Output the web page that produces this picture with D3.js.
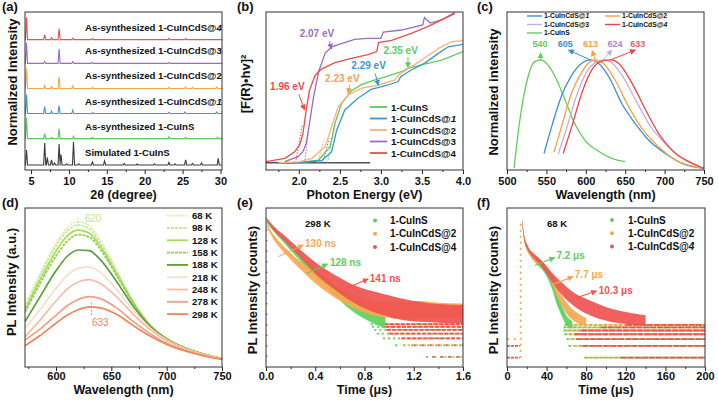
<!DOCTYPE html>
<html><head><meta charset="utf-8">
<script src="https://cdn.jsdelivr.net/npm/d3@7"></script>
<style>body{margin:0;background:#fff}</style>
</head><body><script>
// ================= DATA =================
// (a) XRD
const xrdLabels = ["Simulated 1-CuInS","As-synthesized 1-CuInS","As-synthesized 1-CuInCdS@1","As-synthesized 1-CuInCdS@2","As-synthesized 1-CuInCdS@3","As-synthesized 1-CuInCdS@4"];
const xrdOffsets = [0.2, 1.25, 2.25, 3.25, 4.25, 5.2];
const xrdEdge = [0, 0.25, 0.3, 0.3, 0.28, 0.3];
const xrdPeaksSim = [[4.4,0.6],[6.8,0.88],[7.15,0.3],[7.7,0.2],[8.1,0.08],[8.7,0.84],[8.95,0.42],[9.7,0.05],[10.6,0.92],[11.3,0.05],[13.1,0.12],[14.7,0.16],[17.3,0.06],[19,0.04],[21.3,0.05],[23.2,0.1],[24,0.05],[25.4,0.2],[26.3,0.06],[27.5,0.08],[29.7,0.26]];
const xrdPeaksCuInS = [[4.4,0.84],[6.8,0.2],[7.7,0.05],[8.7,0.4],[10.6,0.1],[13.1,0.05],[23.2,0.08],[25.4,0.05],[29.6,0.05]];
const xrdPeaks1 = [[4.4,0.76],[6.8,0.28],[7.7,0.1],[8.7,0.32],[10.5,0.14],[13.1,0.04],[23.2,0.05],[25.3,0.06],[29.5,0.06]];
const xrdPeaks2 = [[4.4,0.8],[6.8,0.12],[7.7,0.08],[8.7,0.48],[10.5,0.1],[13.1,0.04],[23.2,0.05],[25.4,0.06],[26.3,0.05],[29.5,0.06]];
const xrdPeaks3 = [[4.4,0.82],[6.8,0.08],[8.7,0.58],[10.5,0.07],[13.1,0.04],[23.2,0.04]];
const xrdPeaks4 = [[4.4,0.88],[6.8,0.2],[7.7,0.08],[8.7,0.44],[10.5,0.06],[13.1,0.04],[23.2,0.05],[25.4,0.04]];
const xrdTicks = [5,10,15,20,25,30];

// (b) Tauc plots
const taucNames = ["1-CuInS","1-CuInCdS@1","1-CuInCdS@2","1-CuInCdS@3","1-CuInCdS@4"];
const taucCuInS = [[1.75,4.2],[2.0,4.6],[2.24,6.3],[2.38,14.8],[2.44,29.5],[2.52,42],[2.64,50],[2.76,54],[2.93,57],[3.09,59.5],[3.25,62.2],[3.33,64.3],[3.49,66.5],[3.74,69.6],[4.0,75]];
const tauc1 = [[1.75,4.2],[2.0,4.6],[2.28,6],[2.4,11.6],[2.46,25],[2.56,38],[2.72,45.4],[2.88,51],[3.09,53.8],[3.21,56],[3.24,59],[3.37,63.3],[3.53,67.5],[3.7,73.8],[3.82,78],[4.0,79.5]];
const tauc2 = [[1.75,4.6],[2.0,5.2],[2.16,7.4],[2.32,14.8],[2.4,27.4],[2.48,40],[2.6,47.5],[2.76,51.7],[2.97,53.8],[3.17,57],[3.21,60],[3.37,65.4],[3.53,70.7],[3.7,77],[3.86,81.2],[4.0,81.9]];
const tauc3 = [[1.83,5.3],[1.99,8.4],[2.05,11.6],[2.09,17],[2.13,29.5],[2.18,46.4],[2.24,62],[2.32,73.8],[2.4,78],[2.52,80],[2.68,82.7],[2.84,83.3],[3.0,83.3],[3.03,87.3],[3.25,88.6],[3.51,91.8],[3.53,96.5],[3.6,93],[3.74,95],[3.9,99]];
const tauc4 = [[1.6,5.3],[1.83,7.4],[1.95,11.6],[2.01,15.8],[2.05,23],[2.09,38],[2.13,50.6],[2.2,60],[2.28,64],[2.44,68],[2.64,70.7],[2.84,73],[2.95,75],[2.97,80.6],[3.13,82],[3.37,86.5],[3.57,90.7],[3.74,95],[3.9,99.6]];
const taucBaseline = [[1.6,4.6],[2.87,4.6]];
const bandgaps = [2.35, 2.29, 2.23, 2.07, 1.96];
const tangentTop = [[2.43,26],[2.37,20],[2.31,20],[2.12,26],[2.04,28]];
const taucTicks = [2.0,2.5,3.0,3.5,4.0];

// (c) normalized PL
const plNames = ["1-CuInCdS@1","1-CuInCdS@2","1-CuInCdS@3","1-CuInCdS@4","1-CuInS"];
const plPeaks = [605, 613, 624, 633, 540];
const pl1 = [[547,0.15],[556.5,0.39],[569,0.67],[582,0.86],[595,0.97],[605.5,1.0],[616,0.97],[629,0.85],[646,0.6],[663,0.42],[680,0.27],[701,0.15],[722,0.06],[750,0.015]];
const pl2 = [[559.5,0.16],[569,0.39],[582,0.7],[595,0.89],[605.5,0.985],[612,1.0],[622,0.97],[637,0.82],[654,0.58],[671,0.38],[692.6,0.21],[714,0.09],[750,0.015]];
const pl3 = [[565,0.145],[575.7,0.38],[588.4,0.68],[601,0.89],[614,0.985],[622.4,1.0],[631,0.985],[646,0.86],[663,0.64],[680,0.42],[701,0.24],[722,0.106],[750,0.015]];
const pl4 = [[571.4,0.15],[582,0.39],[595,0.7],[607.6,0.91],[620.3,0.99],[632,1.0],[641.6,0.97],[658.6,0.79],[675.6,0.55],[692.6,0.33],[714,0.15],[731,0.076],[750,0.015]];
const plCuInS = [[509,0.015],[514,0.33],[520.4,0.64],[526.8,0.85],[535,0.985],[542.5,1.0],[550,0.97],[561,0.85],[573.5,0.64],[586,0.42],[599,0.27],[616,0.17],[633,0.106],[650,0.076]];
const plTicks = [500,550,600,650,700,750];

// (d) temperature-dependent PL
const tempLabels = ["68 K","98 K","128 K","158 K","188 K","218 K","248 K","278 K","298 K"];
const tempWl = [572,585,600,610,620,630,640,655,670,685,700,720,740,750];
const pl68K  = [39,57.9,77.8,87.6,91.4,88.9,79.9,61,41.5,26.8,18,11.3,7.1,5.5];
const pl98K  = [37.3,56.5,76,85.6,89.3,86.9,78,59.8,40.8,26.4,17.8,11.2,7,5.4];
const pl128K = [35.8,54,72.8,82.3,86.1,84.3,76,58.5,40.3,26.2,17.8,11.2,7,5.4];
const pl158K = [34.4,51.7,69.8,79,83.2,81.8,74,57.2,39.8,26,17.6,11.1,7,5.3];
const pl188K = [28.5,43.5,60.5,69.5,73.6,73.2,67.5,53.5,38,25.5,17.4,11,6.9,5.3];
const pl218K = [24.3,35.5,49.5,57.5,62,63,59.5,48.5,35.5,24.5,17,10.8,6.8,5.2];
const pl248K = [19.1,29,41.5,49,53.5,55,52.5,44,33,23.5,16.5,10.5,6.6,5.1];
const pl278K = [17,23.5,32.5,38.5,42.5,44.2,43,37,28.5,21,15,9.8,6.3,5];
const pl298K = [13.4,19.5,27.5,32.5,36,37.8,37.2,33,26,19.5,14.2,9.4,6,4.8];
const tempTicks = [600,650,700,750];

// (e) TRPL 298 K : [time µs, low count, high count]
const decayNames = ["1-CuInS","1-CuInCdS@2","1-CuInCdS@4"];
const decayE_CuInS = [[0.005,2864,3357],[0.05,1888,2301],[0.15,836,1062],[0.29,270,371],[0.42,102,164],[0.56,38.6,72.8],[0.69,16.1,35.6],[0.83,8.5,20.4],[0.97,5.4,14.6]];
const decayE_2 = [[0.005,2301,2806],[0.05,1219,1610],[0.15,480,686],[0.29,168,270],[0.42,70,132],[0.56,33.6,68.6],[0.69,19.6,43.4],[0.83,12.7,30.4],[0.97,10.4,26],[1.1,9.4,25.4],[1.24,9.8,27.5],[1.4,9.8,25],[1.6,9.8,24]];
const decayE_4 = [[0.005,3357,3936],[0.05,2042,2594],[0.15,980,1346],[0.29,336,541],[0.42,122,249],[0.56,54,129],[0.69,27.5,77],[0.83,16.1,53],[0.97,11.5,40.9],[1.1,9.06,32.3],[1.24,8.04,26.5],[1.4,7.57,23],[1.6,7.13,21.7]];
const stripeLevels = [1,2,3,4,5,6,7];
const stripeStartE_CuInS = [1.3,1.05,0.95,0.9,0.88,0.86,0.85];
const stripeStartE_2 = [1.45,1.15,1.1,1.0,0.98,0.96,0.95];
const stripeStartE_4 = [1.35,1.2,1.1,1.0,0.98,0.97,0.96];
const lifetimesE = ["128 ns","130 ns","141 ns"];
const decayTicksE = [0,0.4,0.8,1.2,1.6];

// (f) TRPL 68 K
const decayF_CuInS = [[15.2,2979,3490],[17.9,888,1082],[23,434,551],[29.7,259,342],[38,152,217],[44.9,64.6,104],[50,24.9,45.2],[55,12.4,22.6],[60,6.86,12.4],[66,5.62,8.7]];
const decayF_2 = [[15.2,3100,3634],[17.9,871,1104],[24.6,385,509],[31,254,349],[39.8,158,235],[46.5,68.6,120],[53.3,27.5,49.9],[61.7,12,23.5],[72,7.57,13.7],[80,6.59,10.6]];
const decayF_4 = [[15.2,3226,3784],[17.2,1148,1517],[21.2,585,743],[28,349,461],[34.7,226,323],[44.9,94,158],[55,42.6,87],[68.5,20.4,45.2],[85,12,28.6],[102,8.7,19.3],[119,7.42,15.2],[140,6.59,12.4]];
const stripeStartF_CuInS = [78,62,60,58,57,57,58];
const stripeStartF_2 = [80,68,64,62,60,60,62];
const stripeStartF_4 = [115,76,70,68,75,95,120];
const lifetimesF = ["7.2 μs","7.7 μs","10.3 μs"];
const decayTicksF = [0,40,80,120,160,200];

// ================= DRAWING =================
const FONT = '"Liberation Sans", Arial, Helvetica, sans-serif';
const svg = d3.select("body").append("svg").attr("width",718).attr("height",400)
  .style("font-family",FONT).style("background","#fff");
const defs = svg.append("defs");

function arrowId(color){
  const id = "arr" + color.replace("#","");
  if (defs.select("#"+id).empty()) {
    defs.append("marker").attr("id",id).attr("viewBox","0 0 10 10")
      .attr("refX",9).attr("refY",5).attr("markerWidth",6).attr("markerHeight",6)
      .attr("markerUnits","userSpaceOnUse").attr("orient","auto")
      .append("path").attr("d","M0,0L10,5L0,10z").attr("fill",color);
  }
  return "url(#"+id+")";
}

function addText(g, x, y, str, opt){
  const t = g.append("text").attr("x",x).attr("y",y)
    .attr("font-size",opt.size||10).attr("font-weight",opt.weight||"bold")
    .attr("fill",opt.color||"#111").attr("text-anchor",opt.anchor||"start")
    .style("font-family",FONT);
  if (opt.italicLast) {
    t.append("tspan").text(str.slice(0,-1));
    t.append("tspan").attr("font-style","italic").text(str.slice(-1));
  } else t.text(str);
  return t;
}

function panel(cfg){
  const g = svg.append("g");
  const x = d3.scaleLinear().domain(cfg.xDomain).range([cfg.x0,cfg.x1]);
  const y = (cfg.log ? d3.scaleLog() : d3.scaleLinear()).domain(cfg.yDomain).range([cfg.y1,cfg.y0]);
  const cid = "clip"+cfg.letter;
  defs.append("clipPath").attr("id",cid).append("rect")
    .attr("x",cfg.x0).attr("y",cfg.y0).attr("width",cfg.x1-cfg.x0).attr("height",cfg.y1-cfg.y0);
  const plot = g.append("g").attr("clip-path","url(#"+cid+")");
  const top = cfg.y1 < 200;
  function finish(){
    const ax = g.append("g").attr("transform","translate(0,"+cfg.y1+")")
      .call(d3.axisBottom(x).tickValues(cfg.ticks).tickFormat(cfg.fmt).tickSize(4).tickPadding(top?3:1).tickSizeOuter(0));
    ax.select(".domain").remove();
    ax.attr("font-family",null).attr("font-size",null);
    ax.selectAll("text").attr("font-size",11).attr("font-weight","bold").attr("fill","#111").style("font-family",FONT);
    ax.selectAll("line").attr("stroke","#222");
    const mx = g.append("g").attr("transform","translate(0,"+cfg.y1+")")
      .call(d3.axisBottom(x).tickValues(cfg.minor).tickFormat("").tickSize(2).tickSizeOuter(0));
    mx.select(".domain").remove();
    mx.selectAll("line").attr("stroke","#222");
    g.append("rect").attr("x",cfg.x0).attr("y",cfg.y0).attr("width",cfg.x1-cfg.x0).attr("height",cfg.y1-cfg.y0)
      .attr("fill","none").attr("stroke","#333").attr("stroke-width",1);
    addText(g,(cfg.x0+cfg.x1)/2, cfg.y1+(top?28.5:26.5), cfg.xTitle, {size:12.5, anchor:"middle"});
    addText(g,0,0,cfg.yTitle,{size:13, anchor:"middle"})
      .attr("transform","translate("+cfg.ytX+","+cfg.ytY+") rotate(-90)");
    addText(g,cfg.lx,cfg.y0-1,"("+cfg.letter+")",{size:13});
  }
  return {g,x,y,plot,finish};
}

const lineGen = (x,y) => d3.line().x(d=>x(d[0])).y(d=>y(d[1]));
const curveGen = (x,y) => d3.line().x(d=>x(d[0])).y(d=>y(d[1])).curve(d3.curveMonotoneX);

// ---------- (a) ----------
{
  const P = panel({letter:"a",x0:25,x1:222,y0:12,y1:170,xDomain:[4.2,30.2],yDomain:[0,6.3],
    ticks:xrdTicks,minor:[7.5,12.5,17.5,22.5,27.5],fmt:d3.format("d"),
    xTitle:"2θ  (degree)",yTitle:"Normalized Intensity",ytX:17,ytY:82,lx:2});
  const cols = ["#3a3a3a","#5ac85a","#3d97d3","#f8a44c","#9b6cc0","#f0504e"];
  const peaks = [xrdPeaksSim,xrdPeaksCuInS,xrdPeaks1,xrdPeaks2,xrdPeaks3,xrdPeaks4];
  peaks.forEach((pk,i)=>{
    const off = xrdOffsets[i];
    const pts = [[4.2,off+xrdEdge[i]],[4.24,off]];
    pk.forEach(([p,h])=>{ pts.push([p-0.14,off],[p,off+h],[p+0.14,off]); });
    pts.push([30.2,off]);
    P.plot.append("path").attr("d",lineGen(P.x,P.y)(pts)).attr("fill","none")
      .attr("stroke",cols[i]).attr("stroke-width",1.1);
    addText(P.g, 85, P.y(off)-9, xrdLabels[i], {size:9.6, italicLast: /@[14]$/.test(xrdLabels[i])});
  });
  P.finish();
}

// ---------- (b) ----------
{
  const P = panel({letter:"b",x0:266,x1:463,y0:12,y1:170,xDomain:[1.6,4.0],yDomain:[0,100],
    ticks:taucTicks,minor:[1.75,2.25,2.75,3.25,3.75],fmt:d3.format(".1f"),
    xTitle:"Photon Energy (eV)",yTitle:"[F(R)•hv]²",ytX:250,ytY:84,lx:237});
  const cols = ["#5ccc5c","#3b97cf","#fbb277","#9b6cc1","#ef4b4b"];
  const series = [taucCuInS,tauc1,tauc2,tauc3,tauc4];
  const L = lineGen(P.x,P.y);
  P.plot.append("path").attr("d",L(taucBaseline)).attr("stroke","#555").attr("stroke-width",1.3).attr("fill","none");
  series.forEach((s,i)=>{
    P.plot.append("path").attr("d",L([[bandgaps[i],4.6],tangentTop[i]])).attr("stroke",cols[i])
      .attr("stroke-width",1).attr("stroke-dasharray","1.5,1.5").attr("fill","none");
  });
  series.forEach((s,i)=>{
    P.plot.append("path").attr("d",L(s)).attr("fill","none").attr("stroke",cols[i]).attr("stroke-width",1.3);
  });
  const ann = [
    {i:4, tx:1.65, ty:50.6, a:[[2.0,48],[2.07,38]]},
    {i:3, tx:2.01, ty:84, a:[[2.37,81.5],[2.40,76.5]]},
    {i:2, tx:2.32, ty:56, a:[[2.62,54],[2.6,48.5]]},
    {i:1, tx:2.64, ty:64, a:[[2.93,61],[2.97,53.5]]},
    {i:0, tx:3.03, ty:73.4, a:[[3.33,71.5],[3.33,64.8]]}
  ];
  ann.forEach(d=>{
    const c = d.i===2 ? "#f7a054" : cols[d.i];
    addText(P.g,P.x(d.tx),P.y(d.ty),bandgaps[d.i].toFixed(2)+" eV",{size:10,color:c});
    P.g.append("path").attr("d",L(d.a)).attr("stroke",c).attr("stroke-width",1).attr("fill","none")
      .attr("marker-end",arrowId(c));
  });
  taucNames.forEach((n,i)=>{
    const yy = 107 + i*11.5;
    P.g.append("line").attr("x1",370).attr("x2",387).attr("y1",yy).attr("y2",yy).attr("stroke",cols[i]).attr("stroke-width",1.8);
    addText(P.g,391,yy+3.5,n,{size:9.8, italicLast: i===1});
  });
  P.finish();
}

// ---------- (c) ----------
{
  const P = panel({letter:"c",x0:507,x1:704,y0:12,y1:170,xDomain:[500,750],yDomain:[0,1.436],
    ticks:plTicks,minor:[525,575,625,675,725],fmt:d3.format("d"),
    xTitle:"Wavelength (nm)",yTitle:"Normalized intensity",ytX:498,ytY:92,lx:477});
  const cols = ["#3a8fd0","#f9a040","#c5b0dc","#ee4444","#5ed05a"];
  const lblCols = ["#3a8fd0","#f9a040","#a784cc","#f06060","#5ed05a"];
  const series = [pl1,pl2,pl3,pl4,plCuInS];
  const C = curveGen(P.x,P.y), L = lineGen(P.x,P.y);
  [4,0,1,2,3].forEach(i=>{
    P.plot.append("path").attr("d",C(series[i])).attr("fill","none").attr("stroke",cols[i]).attr("stroke-width",1.3);
  });
  const ann = [
    {i:4, tx:542, a:[[542.5,1.0],[542.5,1.065]]},
    {i:0, tx:574, a:[[606,1.0],[578,1.09]]},
    {i:1, tx:606, a:[[612,1.0],[608,1.085]]},
    {i:2, tx:637, a:[[622,1.0],[633,1.09]]},
    {i:3, tx:666, a:[[631,1.0],[663,1.09]]}
  ];
  ann.forEach(d=>{
    addText(P.g,P.x(d.tx),P.y(1.12),String(plPeaks[d.i]),{size:9,color:lblCols[d.i],anchor:"middle"});
    P.g.append("path").attr("d",L(d.a)).attr("stroke",cols[d.i]).attr("stroke-width",1).attr("fill","none")
      .attr("marker-end",arrowId(cols[d.i]));
  });
  const lg = [[0,527,16],[1,605,16],[2,527,24.5],[3,605,24.5],[4,527,33]];
  lg.forEach(([i,lx,ly])=>{
    P.g.append("line").attr("x1",lx).attr("x2",lx+15).attr("y1",ly).attr("y2",ly).attr("stroke",cols[i]).attr("stroke-width",1.4);
    addText(P.g,lx+17,ly+2.4,plNames[i],{size:6.8, italicLast: i===0||i===3});
  });
  P.finish();
}

// ---------- (d) ----------
{
  const P = panel({letter:"d",x0:25,x1:222,y0:208,y1:367,xDomain:[572,750],yDomain:[0,100],
    ticks:tempTicks,minor:[575,625,675,725],fmt:d3.format("d"),
    xTitle:"Wavelength (nm)",yTitle:"PL Intensity (a.u.)",ytX:16,ytY:282,lx:2});
  const cols = ["#dcefb2","#c9e993","#a5db5e","#90d04e","#5c9f3a","#fcdccd","#f7bda7","#f59f80","#f08759"];
  const dash = ["2,1","3,1",null,"3,1",null,null,null,null,null];
  const series = [pl68K,pl98K,pl128K,pl158K,pl188K,pl218K,pl248K,pl278K,pl298K];
  const C = curveGen(P.x,P.y);
  series.forEach((s,i)=>{
    const pts = tempWl.map((w,k)=>[w,s[k]]);
    P.plot.append("path").attr("d",C(pts)).attr("fill","none").attr("stroke",cols[i])
      .attr("stroke-width",1.7).attr("stroke-dasharray",dash[i]);
  });
  const L = lineGen(P.x,P.y);
  P.g.append("path").attr("d",L([[620,94],[620,86]])).attr("stroke","#c3e67a").attr("stroke-width",1).attr("stroke-dasharray","2,1.5").attr("fill","none");
  addText(P.g,P.x(626),P.y(91.5),"620",{size:10,weight:"normal",color:"#c3e67a"});
  P.g.append("path").attr("d",L([[632,40.5],[632,32.5]])).attr("stroke","#f08759").attr("stroke-width",1).attr("stroke-dasharray","2,1.5").attr("fill","none");
  addText(P.g,P.x(632.5),P.y(25.5),"633",{size:10,weight:"normal",color:"#f08759"});
  tempLabels.forEach((n,i)=>{
    const yy = 215.7 + i*12.3;
    P.g.append("line").attr("x1",167).attr("x2",188).attr("y1",yy).attr("y2",yy).attr("stroke",cols[i])
      .attr("stroke-width",1.8).attr("stroke-dasharray",dash[i]);
    addText(P.g,192,yy+3.4,n,{size:9.6});
  });
  P.finish();
}

function decayPanel(P, bands, starts, cols, order, stripeDash){
  const A = d3.area().x(d=>P.x(d[0])).y0(d=>P.y(d[1])).y1(d=>P.y(d[2])).curve(d3.curveMonotoneX);
  order.forEach(i=>{
    stripeLevels.forEach((lv,k)=>{
      P.plot.append("line").attr("x1",P.x(starts[i][k])).attr("x2",P.x(P.x.domain()[1]))
        .attr("y1",P.y(lv)).attr("y2",P.y(lv)).attr("stroke",cols[i]).attr("stroke-width",1.8)
        .attr("stroke-dasharray", stripeDash(i,k));
    });
  });
  order.forEach(i=>{
    P.plot.append("path").attr("d",A(bands[i])).attr("fill",cols[i]).attr("fill-opacity",0.92).attr("stroke","none");
  });
}

// ---------- (e) ----------
{
  const P = panel({letter:"e",x0:266,x1:463,y0:208,y1:367,xDomain:[0,1.6],yDomain:[0.55,6900],log:true,
    ticks:decayTicksE,minor:[0.2,0.6,1.0,1.4],fmt:d3.format(".1f"),
    xTitle:"Time (μs)",yTitle:"PL Intensity (counts)",ytX:257,ytY:290,lx:237});
  const cols = ["#5dd05a","#f9a84d","#ef5350"];
  decayPanel(P,[decayE_CuInS,decayE_2,decayE_4],[stripeStartE_CuInS,stripeStartE_2,stripeStartE_4],cols,[0,1,2],
    (i,k)=> k<2 ? "2,6" : (i===2 ? "4,1.5" : "2,3"));
  P.plot.append("line").attr("x1",P.x(0.004)).attr("x2",P.x(0.004)).attr("y1",P.y(1)).attr("y2",P.y(2500))
    .attr("stroke","#ef5350").attr("stroke-width",1.8).attr("stroke-dasharray","1.5,9");
  const L = lineGen(P.x,P.y);
  const ann = [
    {i:1, tx:0.317, ty:700, a:[[0.1,385],[0.303,773]]},
    {i:0, tx:0.519, ty:226, a:[[0.33,143],[0.5,249]]},
    {i:2, tx:0.843, ty:87, a:[[0.64,56],[0.83,102]]}
  ];
  ann.forEach(d=>{
    addText(P.g,P.x(d.tx),P.y(d.ty),lifetimesE[d.i],{size:10,color:cols[d.i]});
    P.g.append("path").attr("d",L(d.a)).attr("stroke",cols[d.i]).attr("stroke-width",1.1).attr("fill","none")
      .attr("marker-end",arrowId(cols[d.i]));
  });
  addText(P.g,305,227,"298 K",{size:9.6});
  decayNames.forEach((n,i)=>{
    const yy = 220.5 + i*13.3;
    P.g.append("circle").attr("cx",375).attr("cy",yy).attr("r",2).attr("fill",cols[i]);
    addText(P.g,390,yy+3.5,n,{size:10});
  });
  P.finish();
}

// ---------- (f) ----------
{
  const P = panel({letter:"f",x0:507,x1:705,y0:208,y1:367,xDomain:[0,200],yDomain:[0.574,7130],log:true,
    ticks:decayTicksF,minor:[20,60,100,140,180],fmt:d3.format("d"),
    xTitle:"Time (μs)",yTitle:"PL Intensity (counts)",ytX:498,ytY:290,lx:477});
  const cols = ["#5dd05a","#f9a84d","#ef5350"];
  decayPanel(P,[decayF_CuInS,decayF_2,decayF_4],[stripeStartF_CuInS,stripeStartF_2,stripeStartF_4],cols,[0,1,2],
    (i,k)=> i===2 ? "6,1" : "3,2");
  [[1,"#ef5350"],[2,"#ef5350"],[3,"#f9a84d"]].forEach(([lv,c])=>{
    P.plot.append("line").attr("x1",P.x(0)).attr("x2",P.x(13)).attr("y1",P.y(lv)).attr("y2",P.y(lv))
      .attr("stroke",c).attr("stroke-width",1.8).attr("stroke-dasharray",lv===3?"2,5":"3,1");
  });
  P.plot.append("line").attr("x1",P.x(13.8)).attr("x2",P.x(13.8)).attr("y1",P.y(1)).attr("y2",P.y(3500))
    .attr("stroke","#f9a84d").attr("stroke-width",1.8).attr("stroke-dasharray","2,4");
  const L = lineGen(P.x,P.y);
  const ann = [
    {i:0, tx:49.9, ty:349, a:[[28,235],[48.2,378]]},
    {i:1, tx:68.5, ty:110, a:[[46.5,77],[66.8,122]]},
    {i:2, tx:92.7, ty:43.4, a:[[70.2,34.9],[90.4,52]]}
  ];
  ann.forEach(d=>{
    addText(P.g,P.x(d.tx),P.y(d.ty),lifetimesF[d.i],{size:10,color:cols[d.i]});
    P.g.append("path").attr("d",L(d.a)).attr("stroke",cols[d.i]).attr("stroke-width",1.1).attr("fill","none")
      .attr("marker-end",arrowId(cols[d.i]));
  });
  addText(P.g,547,227,"68 K",{size:9.6});
  decayNames.forEach((n,i)=>{
    const yy = 220 + i*13.3;
    P.g.append("circle").attr("cx",612).attr("cy",yy).attr("r",2).attr("fill",cols[i]);
    addText(P.g,628,yy+3.5,n,{size:10, italicLast: i===2});
  });
  P.finish();
}
</script></body></html>
